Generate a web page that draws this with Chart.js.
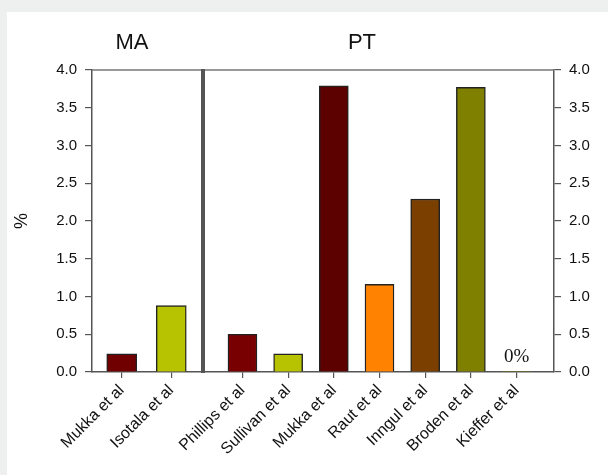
<!DOCTYPE html>
<html><head><meta charset="utf-8">
<script src="https://cdn.jsdelivr.net/npm/chart.js@4.4.0/dist/chart.umd.min.js"></script>
<style>
html,body{margin:0;padding:0;background:#eef0ef;}
#wrap{position:relative;width:608px;height:475px;overflow:hidden;}
#panel{position:absolute;left:7px;top:12px;right:0;bottom:0;background:#fff;}
canvas{position:absolute;left:0;top:0;}
</style></head><body>
<div id="wrap"><div id="panel"></div>
<canvas id="a" width="608" height="475"></canvas>
<canvas id="b" width="608" height="475"></canvas>
</div>
<script>
const maLabels = ['Mukka et al', 'Isotala et al'];
const maValues = [0.24, 0.88];
const maColors = ['#700000', '#b7c200'];
const ptLabels = ['Phillips et al', 'Sullivan et al', 'Mukka et al', 'Raut et al', 'Inngul et al', 'Broden et al', 'Kieffer et al'];
const ptValues = [0.50, 0.24, 3.79, 1.16, 2.29, 3.77, 0];
const ptColors = ['#780000', '#b7c200', '#5c0000', '#ff8300', '#7b3f00', '#808000', '#808000'];
const yTicks = [0, 0.5, 1.0, 1.5, 2.0, 2.5, 3.0, 3.5, 4.0];
const groupTitles = ['MA', 'PT'];
const yTitle = '%';
const zeroNote = '0%';

const SANS = "'Liberation Sans', Arial, sans-serif";
const AXIS = '#555';
const TEXT = '#111';

function xScale(labels, min, max) {
  return {
    type: 'linear', offset: false, min: min, max: max,
    afterBuildTicks: s => { s.ticks = labels.map((_, i) => ({ value: i })); },
    afterFit: s => { s.height = 103; },
    ticks: { autoSkip: false, minRotation: 45, maxRotation: 45, padding: 3,
      callback: v => labels[v], font: { family: SANS, size: 16 }, color: TEXT },
    grid: { drawOnChartArea: false, drawTicks: true, tickLength: 6, color: AXIS, lineWidth: 1.2, offset: false },
    border: { color: AXIS, width: 1.5 }
  };
}
function yScale(pos, width, withTitle) {
  return {
    position: pos, min: 0, max: 4,
    afterBuildTicks: s => { s.ticks = yTicks.map(v => ({ value: v })); },
    afterFit: s => { s.width = width; },
    ticks: { callback: v => v.toFixed(1), padding: 8, font: { family: SANS, size: 15 }, color: TEXT },
    grid: { drawOnChartArea: false, drawTicks: true, tickLength: 7, color: AXIS, lineWidth: 1.2 },
    border: { color: AXIS, width: 1.5 },
    title: { display: withTitle, text: yTitle, font: { family: SANS, size: 18 }, color: TEXT, padding: { top: 4, bottom: 0 } }
  };
}
function topLine(chart) {
  const { ctx, chartArea: ca } = chart;
  ctx.save();
  ctx.strokeStyle = '#777'; ctx.lineWidth = 1.5;
  ctx.beginPath(); ctx.moveTo(ca.left, ca.top); ctx.lineTo(ca.right, ca.top); ctx.stroke();
  ctx.restore();
}
function drawTitle(chart, text, dx) {
  const { ctx, chartArea: ca } = chart;
  ctx.save();
  ctx.fillStyle = TEXT; ctx.font = '22px ' + SANS;
  ctx.textAlign = 'center'; ctx.textBaseline = 'middle';
  ctx.fillText(text, ca.left + dx, 43);
  ctx.restore();
}

new Chart(document.getElementById('a'), {
  type: 'bar',
  data: { datasets: [{ data: maValues.map((v, i) => ({ x: i, y: v })), backgroundColor: maColors,
    borderColor: '#222', borderWidth: 1.4, barThickness: 30 }] },
  options: {
    responsive: false, animation: false,
    layout: { padding: { left: 7, right: 407, top: 70, bottom: 0 } },
    plugins: { legend: { display: false }, tooltip: { enabled: false } },
    scales: { x: xScale(maLabels, -0.6, 1.6), y: yScale('left', 85, true) }
  },
  plugins: [{ id: 'frameA', afterDraw(chart) {
    const { ctx, chartArea: ca } = chart;
    topLine(chart);
    ctx.save();
    ctx.strokeStyle = AXIS; ctx.lineWidth = 4;
    ctx.beginPath(); ctx.moveTo(ca.right + 2, ca.top - 1); ctx.lineTo(ca.right + 2, ca.bottom + 1); ctx.stroke();
    ctx.restore();
    drawTitle(chart, groupTitles[0], 40);
  } }]
});

new Chart(document.getElementById('b'), {
  type: 'bar',
  data: { datasets: [{ data: ptValues.map((v, i) => ({ x: i, y: v })), backgroundColor: ptColors,
    borderColor: '#222', borderWidth: ptValues.map(v => v > 0 ? 1.4 : 0), barThickness: 29 }] },
  options: {
    responsive: false, animation: false,
    layout: { padding: { left: 205, right: 0, top: 70, bottom: 0 } },
    plugins: { legend: { display: false }, tooltip: { enabled: false } },
    scales: { x: xScale(ptLabels, -0.82, 6.82), y: yScale('right', 54, false) }
  },
  plugins: [{ id: 'frameB', afterDraw(chart) {
    const { ctx, chartArea: ca, scales } = chart;
    topLine(chart);
    drawTitle(chart, groupTitles[1], 157);
    const i = ptValues.indexOf(0);
    ctx.save();
    ctx.fillStyle = TEXT; ctx.font = "19px 'Liberation Serif', 'Times New Roman', serif";
    ctx.textAlign = 'center'; ctx.textBaseline = 'alphabetic';
    ctx.fillText(zeroNote, scales.x.getPixelForValue(i), scales.y.getPixelForValue(0) - 10);
    ctx.restore();
  } }]
});
</script>
</body></html>
